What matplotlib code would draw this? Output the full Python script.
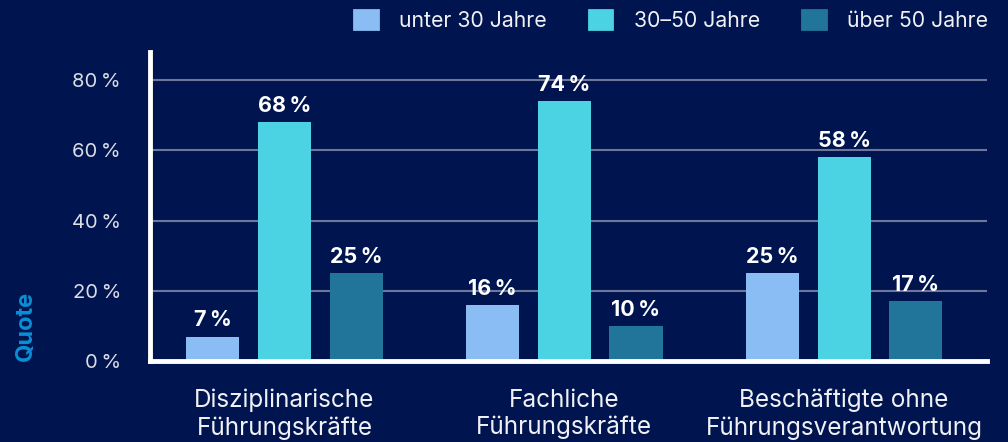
import numpy as np
import matplotlib.pyplot as plt
from matplotlib.patches import Patch

plt.rcParams['font.family'] = ['Inter', 'DejaVu Sans']

# data
categories = ['Disziplinarische\nFührungskräfte', 'Fachliche\nFührungskräfte',
              'Beschäftigte ohne\nFührungsverantwortung']
series_names = ['unter 30 Jahre', '30–50 Jahre', 'über 50 Jahre']
unter30 = [7, 16, 25]
mitte = [68, 74, 58]
ueber50 = [25, 10, 17]
yticks = [0, 20, 40, 60, 80]

bg = '#00154F'
colors = ['#8BBDF5', '#4CD3E3', '#22759A']

fig = plt.figure(figsize=(10.08, 4.42), dpi=100, facecolor=bg)
ax = fig.add_axes([0.149, 0.183, 0.830, 0.699])
ax.set_facecolor(bg)

x = np.arange(len(categories))
w = 0.19
off = 0.256
for i, vals in enumerate([unter30, mitte, ueber50]):
    bars = ax.bar(x + (i - 1) * off, vals, width=w, color=colors[i], zorder=3,
                  label=series_names[i])
    for b, v in zip(bars, vals):
        ax.text(b.get_x() + b.get_width() / 2, v + 1.8, f'{v}\u2009%',
                ha='center', va='bottom', color='white', fontsize=15.5,
                fontweight='bold', zorder=4)

ax.set_xlim(-0.48, 2.51)
ax.set_ylim(0, 88)
ax.set_yticks(yticks)
ax.set_yticklabels([f'{t}\u2009%' for t in yticks], color='#DADCE6', fontsize=14.5)
ax.set_xticks(x)
ax.set_xticklabels(categories, color='#F0F0F5', fontsize=17.5, linespacing=1.22)
ax.tick_params(axis='both', length=0)
ax.tick_params(axis='x', pad=20)
ax.tick_params(axis='y', pad=21)
ax.yaxis.grid(True, color='#6E7699', linewidth=1.5, zorder=0)
ax.set_axisbelow(True)

for s in ['top', 'right']:
    ax.spines[s].set_visible(False)
for s in ['left', 'bottom']:
    ax.spines[s].set_color('white')
    ax.spines[s].set_linewidth(3.5)
    ax.spines[s].set_zorder(5)

fig.text(0.026, 1 - 326 / 442, 'Quote', rotation=90, color='#0A8FD6',
         fontsize=17, fontweight='bold', ha='center', va='center')

handles = [Patch(facecolor=c, edgecolor=c, label=n, joinstyle='round', linewidth=2)
           for c, n in zip(colors, series_names)]
leg = fig.legend(handles=handles, loc='upper right', bbox_to_anchor=(0.999, 1.02),
                 ncol=3, frameon=False, fontsize=15.3, handlelength=1.1,
                 handleheight=0.95, handletextpad=1.0, columnspacing=2.0)
for t in leg.get_texts():
    t.set_color('#F0F0F5')

fig.savefig('out.png', dpi=100, facecolor=bg)
